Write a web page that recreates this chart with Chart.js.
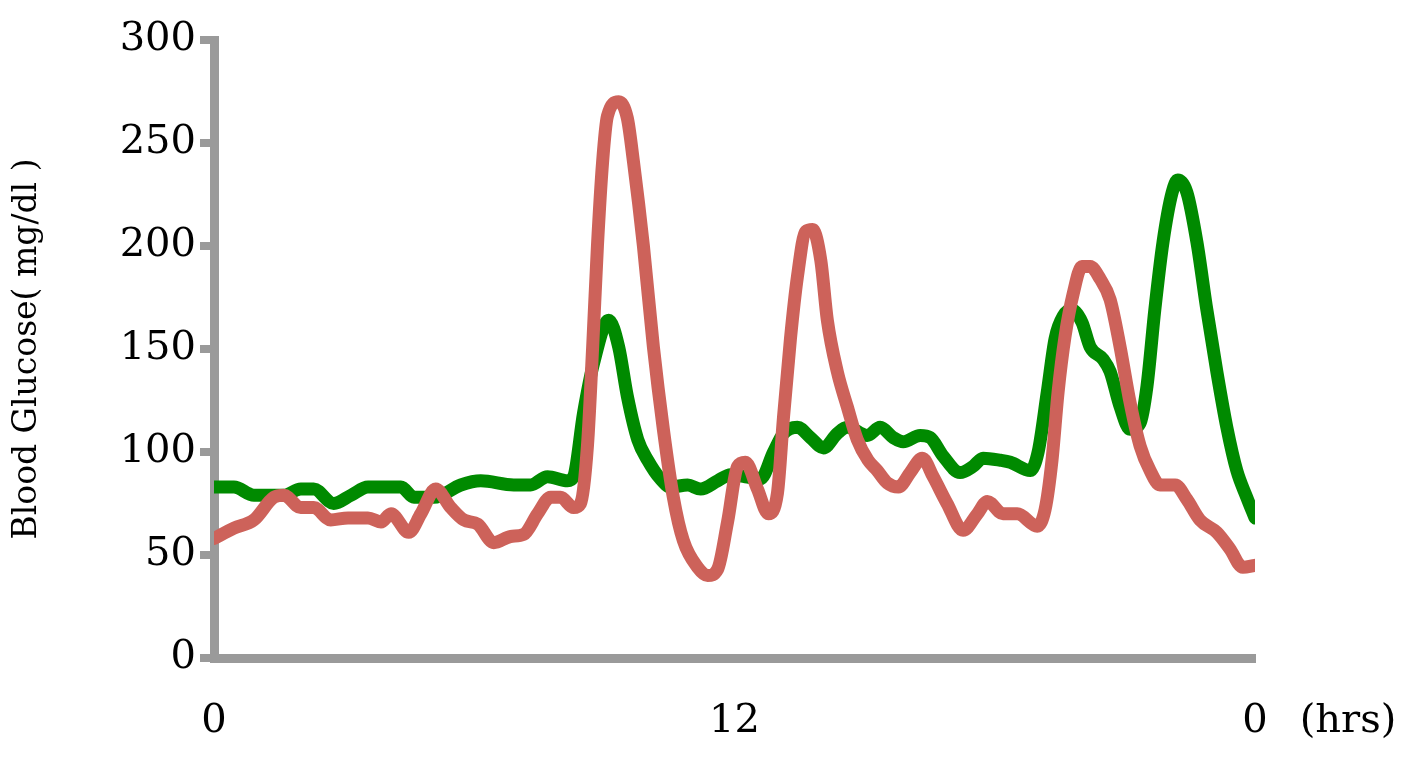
<!DOCTYPE html>
<html>
<head>
<meta charset="utf-8">
<title>Blood Glucose</title>
<script src="https://cdn.jsdelivr.net/npm/chart.js@4.4.0/dist/chart.umd.min.js"></script>
<style>
    html, body { margin: 0; padding: 0; background: #fff; }
    #wrap { width: 1417px; height: 763px; position: relative; }
</style>
</head>
<body>
<div id="wrap"><canvas id="glucose-chart"></canvas></div>
<script>
// Hours since start (0..24) and glucose readings (mg/dl) for each trace
const greenHours = [0, 0.46, 0.92, 1.38, 1.61, 2.00, 2.30, 2.76, 3.16, 3.55, 4.31, 4.61, 5.07, 5.69, 6.15, 6.91, 7.30, 7.69, 8.15, 8.29,
    8.52, 8.75, 9.10, 9.33, 9.53, 9.77, 10.00, 10.29, 10.53, 10.92, 11.22, 11.61, 11.91, 12.25, 12.60, 12.90, 13.13, 13.45, 13.75, 14.05,
    14.37, 14.60, 15.06, 15.36, 15.66, 15.89, 16.28, 16.51, 16.81, 17.20, 17.50, 17.73, 18.13, 18.36, 18.82, 19.00, 19.21, 19.39, 19.58, 19.78,
    20.01, 20.20, 20.50, 20.66, 20.89, 21.12, 21.35, 21.51, 21.69, 21.88, 22.09, 22.22, 22.43, 22.66, 22.89, 23.12, 23.35, 23.58, 23.81, 24.00];
const greenValues = [83, 83, 79, 79, 79, 82, 82, 75, 79, 83, 83, 78, 78, 84, 86, 84, 84, 88, 86, 88,
    119, 143, 164, 151, 127, 106, 96, 87, 83, 84, 82, 86, 89, 88, 87, 100, 109, 112, 107, 102,
    109, 112, 108, 112, 107, 105, 108, 107, 98, 90, 93, 97, 96, 95, 91, 100, 129, 155, 166, 169,
    163, 151, 145, 139, 122, 111, 114, 132, 169, 202, 226, 232, 226, 202, 169, 139, 112, 91, 78, 68];

const redHours = [0, 0.46, 0.92, 1.38, 1.61, 2.00, 2.30, 2.69, 3.09, 3.55, 3.85, 4.08, 4.49, 4.77, 5.11, 5.46, 5.76, 6.08, 6.45, 6.84,
    7.14, 7.46, 7.76, 7.99, 8.29, 8.45, 8.61, 8.73, 8.84, 8.96, 9.07, 9.33, 9.53, 9.67, 9.90, 10.13, 10.36, 10.59, 10.82, 11.15,
    11.38, 11.61, 11.84, 12.07, 12.25, 12.53, 12.78, 12.99, 13.13, 13.29, 13.45, 13.64, 13.80, 13.99, 14.14, 14.37, 14.60, 14.83, 15.08, 15.29,
    15.52, 15.78, 16.05, 16.33, 16.58, 16.90, 17.27, 17.60, 17.83, 18.19, 18.52, 18.98, 19.16, 19.32, 19.46, 19.62, 19.81, 20.01, 20.20, 20.43,
    20.66, 20.89, 21.12, 21.35, 21.58, 21.81, 22.16, 22.43, 22.73, 23.12, 23.42, 23.72, 24.00];
const redValues = [58, 63, 67, 78, 79, 73, 73, 67, 68, 68, 66, 70, 61, 70, 82, 73, 67, 65, 56, 59,
    60, 70, 78, 78, 73, 75, 103, 151, 200, 241, 263, 270, 262, 241, 200, 151, 111, 78, 57, 44,
    40, 43, 66, 93, 95, 82, 70, 80, 117, 155, 185, 207, 208, 193, 164, 139, 122, 106, 96, 91,
    85, 83, 90, 97, 88, 75, 62, 70, 76, 70, 70, 64, 72, 96, 129, 156, 177, 190, 190, 184,
    174, 151, 124, 103, 91, 84, 84, 77, 67, 61, 53, 44, 45];

const yTicks = [0, 50, 100, 150, 200, 250, 300];
const xTickHours = [0, 12, 24];
const xTickLabels = ['0', '12', '0'];
const yTitle = 'Blood Glucose( mg/dl )';
const xUnit = '(hrs)';

const toPoints = (hours, values) => hours.map((h, i) => ({ x: h, y: values[i] }));

const AXIS_GRAY = '#9a9a9a';
const SERIF = '"DejaVu Serif", "Liberation Serif", serif';

// draws the unit label to the right of the last x tick
const unitLabel = {
    id: 'unitLabel',
    afterDraw(chart) {
        const xs = chart.scales.x;
        const ctx = chart.ctx;
        ctx.save();
        ctx.font = `40px ${SERIF}`;
        ctx.fillStyle = '#000';
        ctx.textAlign = 'center';
        ctx.textBaseline = 'middle';
        ctx.fillText(xUnit, xs.right + 93, xs.top + 64);
        ctx.restore();
    }
};

const ctx = document.getElementById('glucose-chart');

new Chart(ctx, {
    type: 'line',
    data: {
        datasets: [{
            label: 'red',
            data: toPoints(redHours, redValues),
            borderColor: '#cd625a',
            borderWidth: 13,
            pointRadius: 0,
            cubicInterpolationMode: 'monotone',
            borderCapStyle: 'round',
            borderJoinStyle: 'round',
            fill: false
        }, {
            label: 'green',
            data: toPoints(greenHours, greenValues),
            borderColor: '#008a00',
            borderWidth: 13,
            pointRadius: 0,
            cubicInterpolationMode: 'monotone',
            borderCapStyle: 'round',
            borderJoinStyle: 'round',
            fill: false
        }]
    },
    options: {
        responsive: true,
        maintainAspectRatio: false,
        animation: false,
        layout: {
            padding: { top: 40, right: 162, bottom: 0, left: 0 }
        },
        plugins: {
            legend: { display: false },
            tooltip: { enabled: false },
            title: { display: false }
        },
        scales: {
            x: {
                type: 'linear',
                min: 0,
                max: 24,
                afterBuildTicks: (scale) => {
                    scale.ticks = xTickHours.map(v => ({ value: v }));
                },
                afterFit: (scale) => { scale.height = 105; },
                grid: { display: false, drawTicks: false },
                border: { display: true, color: AXIS_GRAY, width: 9 },
                ticks: {
                    autoSkip: false,
                    maxRotation: 0,
                    padding: 40,
                    color: '#000',
                    font: { family: SERIF, size: 40 },
                    callback: (v) => xTickLabels[xTickHours.indexOf(v)]
                }
            },
            y: {
                min: 0,
                max: 300,
                afterBuildTicks: (scale) => {
                    scale.ticks = yTicks.map(v => ({ value: v }));
                },
                afterFit: (scale) => { scale.width = 214; },
                grid: {
                    display: true,
                    drawOnChartArea: false,
                    drawTicks: true,
                    tickLength: 14,
                    lineWidth: 8,
                    color: AXIS_GRAY
                },
                border: { display: true, color: AXIS_GRAY, width: 9 },
                ticks: {
                    padding: 4,
                    color: '#000',
                    font: { family: SERIF, size: 40 }
                },
                title: {
                    display: true,
                    text: yTitle,
                    color: '#000',
                    font: { family: SERIF, size: 33 },
                    padding: { top: 8, bottom: 0 }
                }
            }
        }
    },
    plugins: [unitLabel]
});
</script>
</body>
</html>
